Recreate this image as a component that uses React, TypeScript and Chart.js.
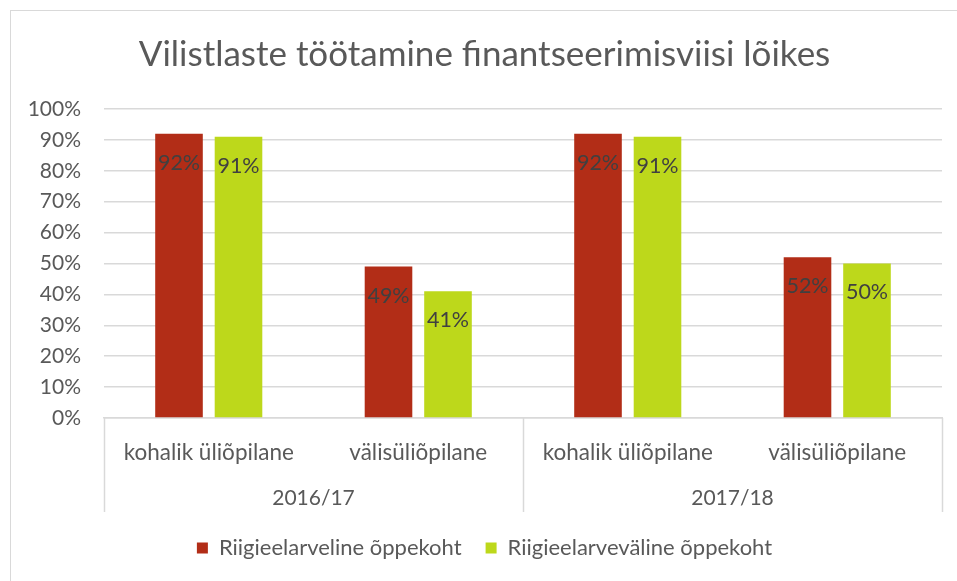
import React, { useEffect, useRef } from "react";
import { Chart, registerables } from "chart.js";

Chart.register(...registerables);

const titleText = "Vilistlaste töötamine finantseerimisviisi lõikes";
const categories = ["kohalik üliõpilane", "välisüliõpilane", "kohalik üliõpilane", "välisüliõpilane"];
const groups = ["2016/17", "2017/18"];
const seriesNames = ["Riigieelarveline õppekoht", "Riigieelarveväline õppekoht"];
const riigieelarveline = [92, 49, 92, 52];
const riigieelarvevaline = [91, 41, 91, 50];
const yMin = 0;
const yMax = 100;
const yStep = 10;

const RED = "#B22D17";
const GREEN = "#BDD81B";
const GRID = "#d9d9d9";
const TEXT = "#595959";
const FONT = "Lato";

const dataLabelPlugin = {
  id: "dataLabels",
  afterDatasetsDraw(chart: any) {
    const ctx = chart.ctx;
    ctx.save();
    ctx.font = `21.5px ${FONT}`;
    ctx.fillStyle = "#404040";
    ctx.textAlign = "center";
    ctx.textBaseline = "middle";
    chart.data.datasets.forEach((ds: any, di: number) => {
      const meta = chart.getDatasetMeta(di);
      meta.data.forEach((el: any, i: number) => {
        ctx.fillText(`${ds.data[i]}%`, el.x, el.y + 29);
      });
    });
    ctx.restore();
  },
};

const separatorPlugin = {
  id: "separators",
  afterDraw(chart: any) {
    const x = chart.scales.x;
    const ctx = chart.ctx;
    const mid = (x.getPixelForValue(1) + x.getPixelForValue(2)) / 2;
    const top = chart.chartArea.bottom;
    const bottom = x.bottom + 39;
    ctx.save();
    ctx.strokeStyle = GRID;
    ctx.lineWidth = 1.5;
    [x.left, mid, x.right].forEach((px) => {
      ctx.beginPath();
      ctx.moveTo(Math.round(px) + 0.5, top);
      ctx.lineTo(Math.round(px) + 0.5, bottom);
      ctx.stroke();
    });
    ctx.restore();
  },
};

export default function App() {
  const ref = useRef<HTMLCanvasElement | null>(null);

  useEffect(() => {
    document.body.style.margin = "0";
    document.body.style.overflow = "hidden";
    if (!ref.current) return;
    const chart = new Chart(ref.current, {
      type: "bar",
      data: {
        labels: categories,
        datasets: [
          { label: seriesNames[0], data: riigieelarveline, backgroundColor: RED },
          { label: seriesNames[1], data: riigieelarvevaline, backgroundColor: GREEN },
        ],
      },
      options: {
        responsive: false,
        animation: false,
        events: [],
        layout: { padding: { left: 16, right: 15, top: 0, bottom: 12 } },
        datasets: { bar: { categoryPercentage: 0.568, barPercentage: 0.8 } },
        plugins: {
          title: {
            display: true,
            text: titleText,
            color: TEXT,
            font: { family: FONT, size: 35, weight: "normal" },
            padding: { top: 23, bottom: 33 },
          },
          legend: {
            position: "bottom",
            labels: {
              color: TEXT,
              font: { family: FONT, size: 22 },
              boxWidth: 11,
              boxHeight: 11,
              padding: 24,
            },
          },
          tooltip: { enabled: false },
        },
        scales: {
          y: {
            min: yMin,
            max: yMax,
            ticks: {
              stepSize: yStep,
              color: TEXT,
              font: { family: FONT, size: 21 },
              padding: 23,
              callback: (v: any) => `${v}%`,
            },
            grid: { color: GRID, drawTicks: false, lineWidth: 1.5 },
            border: { display: false },
            afterFit: (s: any) => {
              s.width = 77;
            },
          },
          x: {
            weight: 0,
            ticks: { color: TEXT, font: { family: FONT, size: 22.5 }, padding: 21, maxRotation: 0 },
            grid: { display: false, drawTicks: false },
            border: { display: true, color: GRID, width: 1.5 },
            afterFit: (s: any) => {
              s.height = 55;
            },
          },
          x2: {
            type: "category",
            labels: groups,
            position: "bottom",
            weight: 1,
            ticks: { color: TEXT, font: { family: FONT, size: 21 }, padding: 13, maxRotation: 0 },
            grid: { display: false, drawTicks: false },
            border: { display: false },
            afterFit: (s: any) => {
              s.height = 40;
            },
          },
        },
      },
      plugins: [dataLabelPlugin, separatorPlugin],
    });
    return () => chart.destroy();
  }, []);

  return (
    <div
      style={{
        position: "absolute",
        left: 10,
        top: 10,
        width: 947,
        height: 571,
        borderLeft: `1px solid ${GRID}`,
        borderTop: `1px solid ${GRID}`,
        boxSizing: "border-box",
        background: "#fff",
      }}
    >
      <canvas ref={ref} width={946} height={570} style={{ display: "block" }} />
    </div>
  );
}
